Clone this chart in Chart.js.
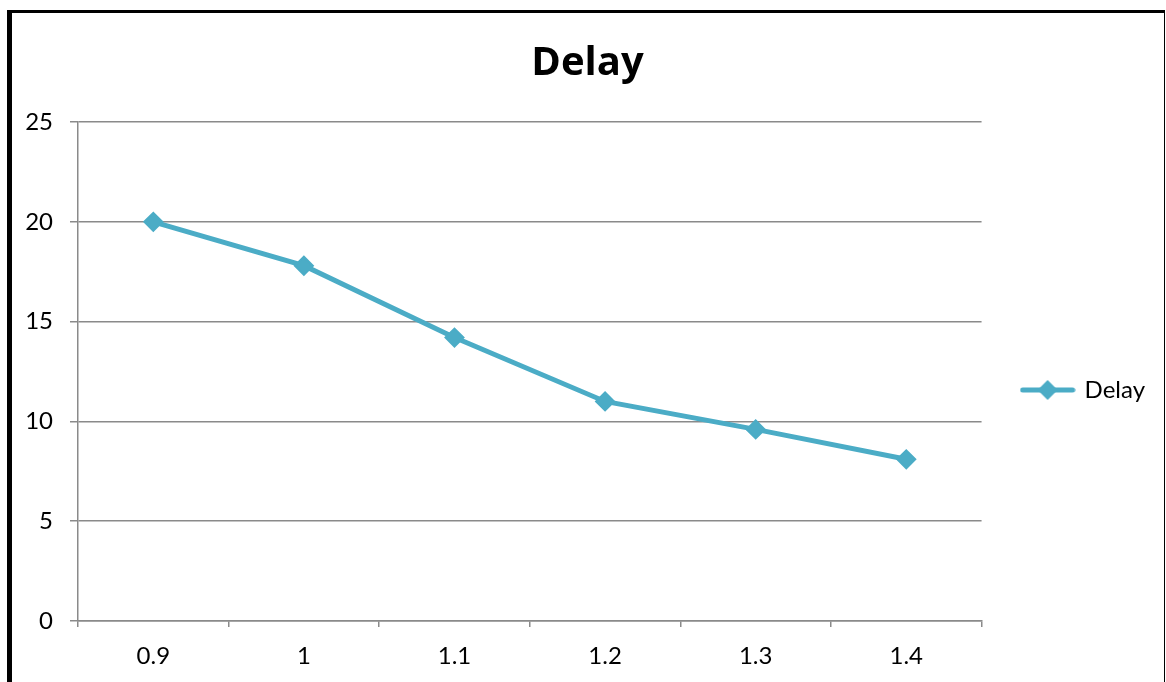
<!DOCTYPE html>
<html>
<head>
<meta charset="utf-8">
<title>Delay</title>
<script src="https://cdn.jsdelivr.net/npm/chart.js@4"></script>
<style>
    html, body { margin: 0; padding: 0; background: #fff; overflow: hidden; }
    #wrap { position: relative; width: 1166px; height: 682px; }
    #frame {
        position: absolute; left: 7px; top: 10px; width: 1152px; height: 700px;
        border-left: 5px solid #000; border-top: 3px solid #000; border-right: 1px solid #000;
        pointer-events: none;
    }
</style>
</head>
<body>
<div id="wrap">
    <canvas id="delayChart"></canvas>
    <div id="frame"></div>
</div>
<script>
// Datos del gráfico
const loads = ['0.9', '1', '1.1', '1.2', '1.3', '1.4'];
const delayValues = [20, 17.8, 14.2, 11, 9.6, 8.1];
const yTicks = [0, 5, 10, 15, 20, 25];

const lineColor = '#4BACC6';
const gridColor = '#8a8a8a';

// Icono de la leyenda: línea con rombo
const legendIcon = document.createElement('canvas');
legendIcon.width = 56;
legendIcon.height = 22;
(function () {
    const c = legendIcon.getContext('2d');
    c.strokeStyle = lineColor;
    c.fillStyle = lineColor;
    c.lineWidth = 5;
    c.lineCap = 'round';
    c.beginPath();
    c.moveTo(3, 11);
    c.lineTo(53, 11);
    c.stroke();
    c.beginPath();
    c.moveTo(28, 1);
    c.lineTo(38, 11);
    c.lineTo(28, 21);
    c.lineTo(18, 11);
    c.closePath();
    c.fill();
})();

const delayChart = new Chart(document.getElementById('delayChart'), {
    type: 'line',
    data: {
        labels: loads,
        datasets: [{
            label: 'Delay',
            data: delayValues,
            borderColor: lineColor,
            backgroundColor: lineColor,
            borderWidth: 5,
            pointStyle: 'rectRot',
            pointRadius: 9,
            pointBorderWidth: 2,
            pointBackgroundColor: lineColor,
            pointBorderColor: lineColor,
            tension: 0
        }]
    },
    options: {
        responsive: true,
        maintainAspectRatio: false,
        animation: false,
        devicePixelRatio: 1,
        layout: {
            padding: { left: 20, right: 11, top: 0, bottom: 0 }
        },
        plugins: {
            tooltip: { enabled: false },
            title: {
                display: true,
                text: 'Delay',
                color: '#000',
                font: { family: 'Open Sans', size: 40, weight: 'bold', lineHeight: 1.2 },
                padding: { top: 40, bottom: 34 }
            },
            legend: {
                position: 'right',
                fullSize: false,
                title: {
                    display: true,
                    text: ' ',
                    font: { size: 10, lineHeight: 1 },
                    padding: { top: 27, bottom: 0 }
                },
                labels: {
                    usePointStyle: true,
                    pointStyle: legendIcon,
                    pointStyleWidth: 50,
                    padding: 41,
                    color: '#000',
                    font: { family: 'Lato', size: 24 }
                }
            }
        },
        scales: {
            x: {
                offset: true,
                afterFit: (scale) => { scale.height = 61; },
                grid: {
                    offset: true,
                    drawOnChartArea: false,
                    drawTicks: true,
                    tickLength: 6,
                    lineWidth: 1.5,
                    color: gridColor
                },
                border: { color: gridColor, width: 1.5 },
                ticks: {
                    color: '#000',
                    padding: 15,
                    font: { family: 'Lato', size: 24 }
                }
            },
            y: {
                min: 0,
                max: 25,
                afterFit: (scale) => { scale.width = 58; },
                afterBuildTicks: (scale) => { scale.ticks = yTicks.map(v => ({ value: v })); },
                grid: {
                    color: gridColor,
                    lineWidth: 1.5,
                    drawTicks: true,
                    tickLength: 8
                },
                border: { color: gridColor, width: 1.5 },
                ticks: {
                    color: '#000',
                    padding: 17,
                    font: { family: 'Lato', size: 24 }
                }
            }
        }
    }
});
</script>
</body>
</html>
